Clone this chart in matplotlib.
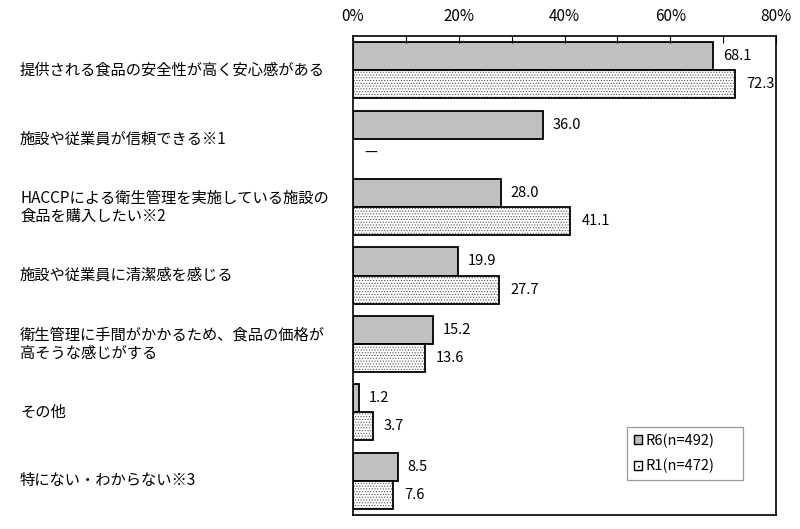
import matplotlib.pyplot as plt
import numpy as np
from matplotlib.transforms import blended_transform_factory

plt.rcParams['font.family'] = ['Noto Sans CJK JP', 'DejaVu Sans']
plt.rcParams['hatch.linewidth'] = 0.5

# data
categories = [
    '提供される食品の安全性が高く安心感がある',
    '施設や従業員が信頼できる※1',
    'HACCPによる衛生管理を実施している施設の\n食品を購入したい※2',
    '施設や従業員に清潔感を感じる',
    '衛生管理に手間がかかるため、食品の価格が\n高そうな感じがする',
    'その他',
    '特にない・わからない※3',
]
r6 = [68.1, 36.0, 28.0, 19.9, 15.2, 1.2, 8.5]
r1 = [72.3, None, 41.1, 27.7, 13.6, 3.7, 7.6]
series_names = ['R6(n=492)', 'R1(n=472)']
xticks = [0, 20, 40, 60, 80]

fig = plt.figure(figsize=(8, 5.29), dpi=100)
ax = fig.add_axes([353 / 800, 1 - 515 / 529, 423 / 800, 479 / 529])

y = np.arange(len(categories))
h = 0.41
r1_vals = [v if v is not None else 0 for v in r1]

ax.barh(y - h / 2, r6, height=h, color='#c0c0c0', edgecolor='black', linewidth=1.3,
        label=series_names[0])
# dotted fill for R1, then black outline on top
ax.barh(y + h / 2, r1_vals, height=h, color='white', edgecolor='#555555', linewidth=0,
        hatch='......')
b2 = ax.barh(y + h / 2, r1_vals, height=h, fill=False, edgecolor='black', linewidth=1.3)
for i, v in enumerate(r1):
    if v is None:
        b2[i].set_visible(False)

for i, v in enumerate(r6):
    ax.annotate(f'{v:.1f}', (v, y[i] - h / 2), xytext=(7, 0), textcoords='offset points',
                va='center', ha='left', fontsize=10.5)
for i, v in enumerate(r1):
    txt = f'{v:.1f}' if v is not None else '—'
    ax.annotate(txt, (v if v is not None else 0, y[i] + h / 2), xytext=(8, 0),
                textcoords='offset points', va='center', ha='left', fontsize=10.5)

ax.set_xlim(0, 80)
ax.set_ylim(len(categories) - 0.5, -0.5)
ax.xaxis.tick_top()
ax.set_xticks(xticks)
ax.set_xticklabels([f'{t}%' for t in xticks], fontsize=11)
ax.set_xticks(np.arange(0, 81, 10), minor=True)
ax.tick_params(axis='x', which='both', direction='in', length=5, width=0.8, pad=8)
ax.set_yticks([])
for s in ax.spines.values():
    s.set_linewidth(1.2)

trans = blended_transform_factory(fig.transFigure, ax.transData)
for i, c in enumerate(categories):
    ax.text(20 / 800, y[i], c, transform=trans, ha='left', va='center',
            fontsize=11, linespacing=1.1)

# legend handles: simple gray square and dotted square
from matplotlib.patches import Patch
handles = [Patch(facecolor='#c0c0c0', edgecolor='black', linewidth=1.0),
           Patch(facecolor='white', edgecolor='black', linewidth=1.0, hatch='...')]
leg = ax.legend(handles, series_names, loc='lower left',
                bbox_to_anchor=(274 / 423, 35 / 479, 116 / 423, 53 / 479), mode='expand',
                borderaxespad=0, fontsize=10.5, frameon=True, fancybox=False,
                edgecolor='#808080', handlelength=0.6, handleheight=0.6,
                handletextpad=0.25, borderpad=0.45, labelspacing=0.75)
leg.get_frame().set_linewidth(0.9)

fig.savefig('out.png', dpi=100)
